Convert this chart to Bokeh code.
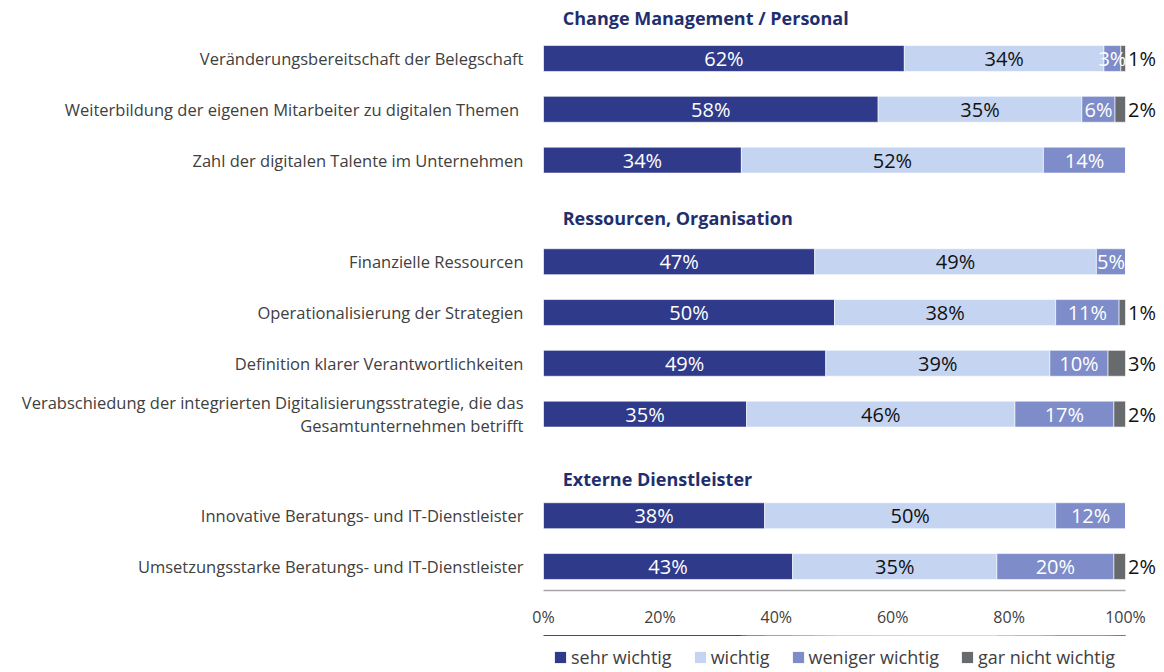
from bokeh.plotting import figure
from bokeh.layouts import column
from bokeh.models import Range1d, FixedTicker, Legend, LegendItem, ColumnDataSource, PrintfTickFormatter
from bokeh.core.properties import value
from bokeh.embed import file_html
from bokeh.resources import INLINE

# ---------------- data ----------------
group_titles = ["Change Management / Personal", "Ressourcen, Organisation", "Externe Dienstleister"]
categories = [
    "Veränderungsbereitschaft der Belegschaft",
    "Weiterbildung der  eigenen Mitarbeiter zu digitalen Themen",
    "Zahl der digitalen Talente im Unternehmen",
    "Finanzielle Ressourcen",
    "Operationalisierung der Strategien",
    "Definition klarer Verantwortlichkeiten",
    "Verabschiedung der integrierten Digitalisierungsstrategie, die das\nGesamtunternehmen betrifft",
    "Innovative Beratungs- und IT-Dienstleister",
    "Umsetzungsstarke Beratungs- und IT-Dienstleister",
]
category_group = [0, 0, 0, 1, 1, 1, 1, 2, 2]
series_names = ["sehr wichtig", "wichtig", "weniger wichtig", "gar nicht wichtig"]

# bar widths (share of 100%)
sehr_wichtig = [62.0, 57.5, 34.0, 46.6, 50.0, 48.5, 34.9, 38.0, 42.8]
wichtig = [34.3, 35.0, 51.9, 48.4, 38.0, 38.5, 46.1, 50.0, 35.1]
weniger_wichtig = [2.9, 5.7, 14.1, 5.0, 10.9, 10.0, 17.0, 12.0, 20.1]
gar_nicht_wichtig = [0.8, 1.8, 0.0, 0.0, 1.1, 3.0, 2.0, 0.0, 2.0]

# printed labels
label_sehr = [62, 58, 34, 47, 50, 49, 35, 38, 43]
label_wichtig = [34, 35, 52, 49, 38, 39, 46, 50, 35]
label_weniger = [3, 6, 14, 5, 11, 10, 17, 12, 20]
label_gar = [1, 2, None, None, 1, 3, 2, None, 2]

x_ticks = [0, 20, 40, 60, 80, 100]

# ---------------- style ----------------
colors = ["#303a8b", "#c5d5f1", "#7e8cc9", "#676b6e"]
label_colors = ["white", "#111111", "white", "#111111"]
FONT = "Open Sans"

# ---------------- layout helpers ----------------
ypos = []
pos = 0
for i, g in enumerate(category_group):
    if i > 0:
        pos += 2 if g != category_group[i - 1] else 1
    ypos.append(pos)
header_offset = [0.79, 0.86, 0.72]
header_y = [ypos[category_group.index(g)] - header_offset[g] for g in range(len(group_titles))]

LEFT = 543
FRAME_W = 613
PLOT_W = 582
x_end = 100.0 * FRAME_W / PLOT_W
row_px = 50.8
frame_h = 590
y_top = -58.0 / row_px
y_bottom = y_top + frame_h / row_px

p = figure(
    frame_width=FRAME_W, frame_height=frame_h,
    x_range=Range1d(0, x_end), y_range=Range1d(y_bottom, y_top),
    output_backend="svg", toolbar_location=None,
    min_border_left=LEFT, min_border_right=0, min_border_top=0, min_border_bottom=45,
)
p.outline_line_color = None
p.xgrid.visible = False
p.ygrid.visible = False
p.background_fill_color = "white"
p.border_fill_color = "white"

# legend strip figure (its bars lie outside its visible range; only swatches show)
p2 = figure(
    frame_width=FRAME_W, frame_height=35,
    x_range=Range1d(0, x_end), y_range=Range1d(-3, -2),
    output_backend="svg", toolbar_location=None,
    x_axis_type=None, y_axis_type=None,
    min_border_left=LEFT, min_border_right=0, min_border_top=0, min_border_bottom=0,
)
p2.outline_line_color = None
p2.xgrid.visible = False
p2.ygrid.visible = False

series_vals = [sehr_wichtig, wichtig, weniger_wichtig, gar_nicht_wichtig]
series_labels = [label_sehr, label_wichtig, label_weniger, label_gar]

lefts = [0.0] * len(categories)
swatches = []
txt_x, txt_y, txt_s, txt_c, txt_align = [], [], [], [], []
for s, vals in enumerate(series_vals):
    rights = [l + v for l, v in zip(lefts, vals)]
    src = ColumnDataSource(dict(y=ypos, left=lefts, right=rights))
    p.hbar(y="y", left="left", right="right", height=0.51, source=src,
           fill_color=colors[s], line_color="white", line_width=0.6)
    r2 = p2.hbar(y="y", left="left", right="right", height=0.51, source=src,
                 fill_color=colors[s], line_color=None)
    swatches.append(LegendItem(label=series_names[s], renderers=[r2]))
    for i, lab in enumerate(series_labels[s]):
        if lab is None:
            continue
        if s == 3:
            txt_x.append(100.45)
            txt_align.append("left")
        else:
            txt_x.append((lefts[i] + rights[i]) / 2)
            txt_align.append("center")
        txt_y.append(ypos[i])
        txt_s.append(f"{lab}%")
        txt_c.append(label_colors[s])
    lefts = rights

tsrc = ColumnDataSource(dict(x=txt_x, y=txt_y, text=txt_s, color=txt_c, align=txt_align))
p.text(x="x", y="y", text="text", source=tsrc, text_color="color", text_align="align",
       text_baseline="middle", text_font=value(FONT), text_font_size="20px")

hsrc = ColumnDataSource(dict(x=[3.3] * len(group_titles), y=header_y, text=group_titles))
p.text(x="x", y="y", text="text", source=hsrc, text_color="#1f2f6e", text_align="left",
       text_baseline="middle", text_font=value(FONT), text_font_size="18px",
       text_font_style="bold")

# x axis
xa = p.xaxis[0]
xa.ticker = FixedTicker(ticks=x_ticks)
xa.formatter = PrintfTickFormatter(format="%d%%")
xa.bounds = (0, 100)
xa.axis_line_color = "#a6a6a6"
xa.axis_line_width = 1.5
xa.major_tick_line_color = None
xa.minor_tick_line_color = None
xa.major_tick_out = 0
xa.major_tick_in = 0
xa.minor_tick_out = 0
xa.major_label_standoff = 15
xa.major_label_text_font = FONT
xa.major_label_text_font_size = "16px"
xa.major_label_text_color = "#404040"

# y axis
ya = p.yaxis[0]
ya.ticker = FixedTicker(ticks=ypos)
ya.major_label_overrides = {y: c for y, c in zip(ypos, categories)}
ya.axis_line_color = None
ya.major_tick_line_color = None
ya.minor_tick_line_color = None
ya.major_label_standoff = 14
ya.major_label_text_font = FONT
ya.major_label_text_font_size = "16.5px"
ya.major_label_text_color = "#404040"
ya.major_label_text_line_height = 1.0

legend = Legend(
    items=swatches, orientation="horizontal", location=(10, 1),
    glyph_width=14, glyph_height=14, label_standoff=4, spacing=21,
    label_text_font=FONT, label_text_font_size="18px", label_text_color="#404040",
    border_line_color=None, background_fill_alpha=0, padding=0, margin=0,
)
p2.add_layout(legend)

layout = column(p, p2, spacing=0)
open("out.html", "w").write(file_html(layout, INLINE))
